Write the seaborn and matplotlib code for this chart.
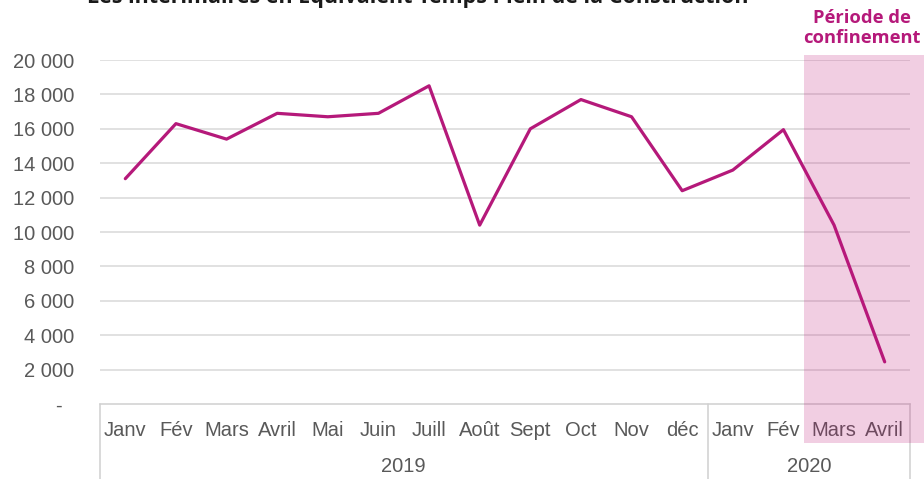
import matplotlib
matplotlib.use("Agg")
import matplotlib.pyplot as plt
import seaborn as sns
import numpy as np
import pandas as pd
from matplotlib.patches import Rectangle
from matplotlib.lines import Line2D

months = ["Janv", "Fév", "Mars", "Avril", "Mai", "Juin", "Juill", "Août", "Sept",
          "Oct", "Nov", "déc", "Janv", "Fév", "Mars", "Avril"]
years = ["2019", "2020"]
months_per_year = [12, 4]
values = [13100, 16300, 15400, 16900, 16700, 16900, 18500, 10400, 16000,
          17700, 16700, 12400, 13600, 15950, 10400, 2450]
yticks = [0, 2000, 4000, 6000, 8000, 10000, 12000, 14000, 16000, 18000, 20000]
ytick_labels = ["-\u2007", "2 000", "4 000", "6 000", "8 000", "10 000", "12 000",
                "14 000", "16 000", "18 000", "20 000"]
title = "Les intérimaires en Equivalent Temps Plein de la Construction"
band_label = "Période de\nconfinement"

sns.set_theme(style="white")
plt.rcParams['font.family'] = ['Liberation Sans', 'DejaVu Sans']

W, H = 924, 479
FS = 14.5
fig = plt.figure(figsize=(W / 100, H / 100), dpi=100)
left, right, top_px, bot_px = 100, 910, 60, 404
ax = fig.add_axes([left / W, (H - bot_px) / H, (right - left) / W, (bot_px - top_px) / H])

df = pd.DataFrame({"pos": np.arange(len(months)), "val": values})
sns.lineplot(data=df, x="pos", y="val", ax=ax, color="#B5197A", linewidth=2.3, zorder=3)

ax.set_xlim(-0.5, len(months) - 0.5)
ax.set_ylim(0, 20000)
ax.set_yticks(yticks)
ax.set_yticklabels(ytick_labels, fontsize=FS, color="#595959")
ax.set_xticks([])
ax.set_xlabel("")
ax.set_ylabel("")
ax.tick_params(axis="y", length=0, pad=18.5)
for y in yticks[1:]:
    ax.axhline(y, color="#D9D9D9", linewidth=1.1, zorder=1)
for s in ["top", "right", "left"]:
    ax.spines[s].set_visible(False)
ax.spines["bottom"].set_color("#D0D0D0")
ax.spines["bottom"].set_linewidth(1.1)

tr = ax.get_xaxis_transform()
# month labels
for i, m in enumerate(months):
    ax.text(i, -0.078, m, transform=tr, ha="center", va="center",
            fontsize=FS, color="#595959")
# year labels and separators
start = 0
bounds = [-0.5]
for yr, n in zip(years, months_per_year):
    center = start + (n - 1) / 2
    ax.text(center, -0.183, yr, transform=tr, ha="center", va="center",
            fontsize=FS, color="#595959")
    start += n
    bounds.append(start - 0.5)
for b in bounds:
    ax.add_line(Line2D([b, b], [0, -0.22], transform=tr, color="#D0D0D0",
                       linewidth=1.1, clip_on=False))

# confinement band
band = Rectangle((804 / W, (H - 443) / H), (924 - 804) / W, (443 - 55) / H,
                 transform=fig.transFigure, facecolor="#C0187A", alpha=0.21,
                 edgecolor="none", zorder=10)
fig.add_artist(band)
fig.text(862 / W, (H - 28) / H, band_label, ha="center", va="center", fontsize=13.2,
         fontweight="bold", color="#B5197A", family=["Open Sans", "DejaVu Sans"],
         linespacing=1.2)

fig.text(418 / W, (H + 2) / H, title, ha="center", va="center", fontsize=15.5,
         fontweight="bold", color="#1A1A1A", family=["Open Sans", "DejaVu Sans"])

fig.savefig("out.png", dpi=100)
